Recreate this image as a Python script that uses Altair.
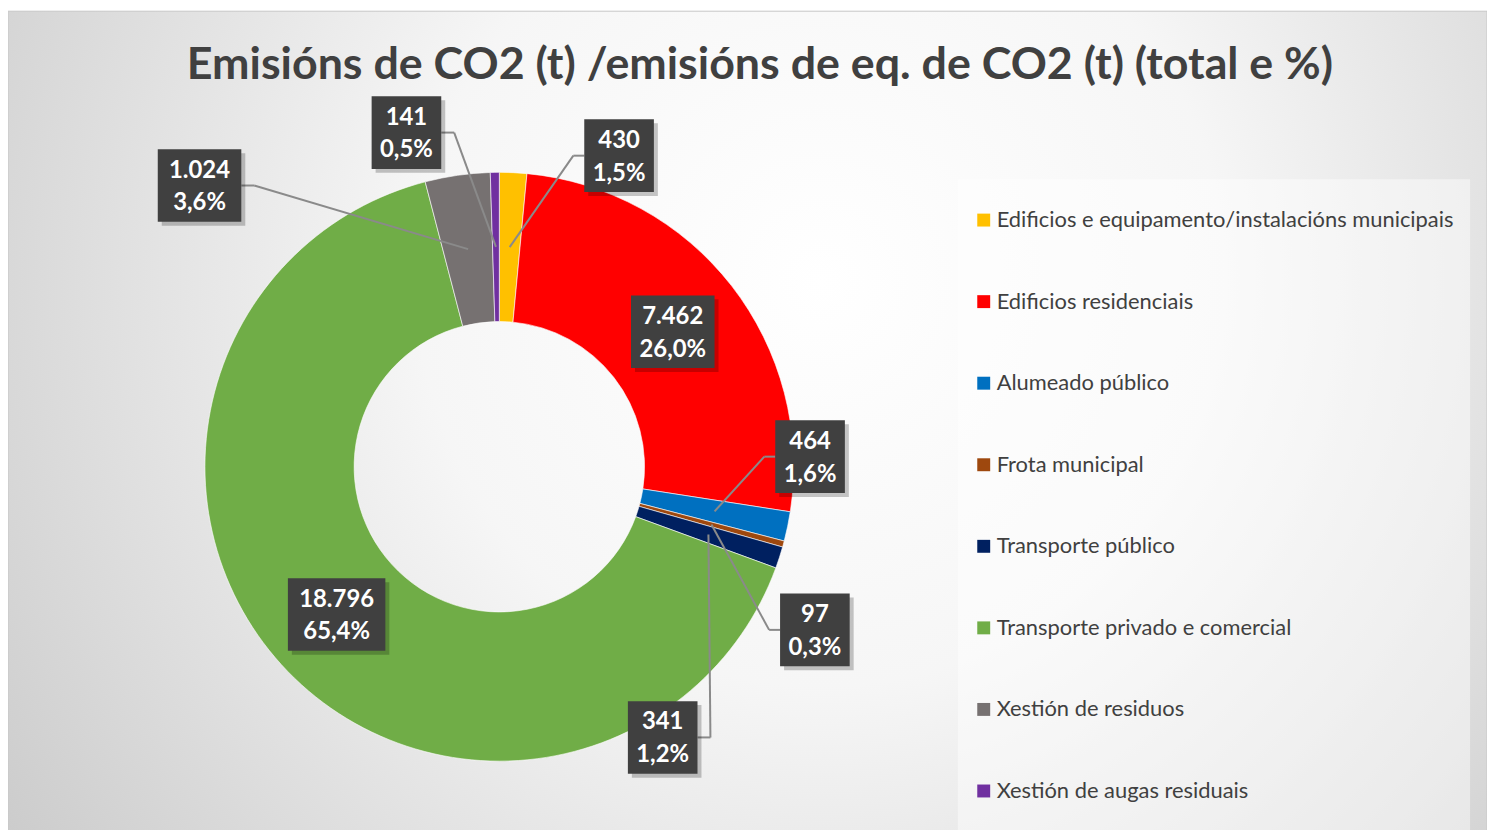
import altair as alt
import pandas as pd

# ---------------- data ----------------
CATEGORIES = [
    "Edificios e equipamento/instalacións municipais",
    "Edificios residenciais",
    "Alumeado público",
    "Frota municipal",
    "Transporte público",
    "Transporte privado e comercial",
    "Xestión de residuos",
    "Xestión de augas residuais",
]
VALUES = [430, 7462, 464, 97, 341, 18796, 1024, 141]
COLORS = ["#FFC000", "#FF0000", "#0070C0", "#9E480E", "#002060", "#70AD47", "#767171", "#7030A0"]
TITLE = "Emisións de CO2 (t) /emisións de eq. de CO2 (t) (total e %)"

# ---------------- layout ----------------
W, H = 1487, 822
CX, CY = 494, 459
R_OUT, R_IN = 296, 146
R_LAB = 221
# label box offset from the slice's mid-ring point (0,0 = label on the slice)
LABEL_OFFSETS = [(110, -92), (0, 0), (96, -55), (104, 106), (-46, 204), (0, 0), (-270, -64), (-90, -115)]
FONT = "Lato"

total = sum(VALUES)


def fmt_int(v):
    return f"{v:,}".replace(",", ".")


def fmt_pct(v):
    return f"{v / total * 100:.1f}%".replace(".", ",")


df = pd.DataFrame({
    "cat": CATEGORIES,
    "value": VALUES,
    "ord": list(range(len(CATEGORIES))),
    "l1": [fmt_int(v) for v in VALUES],
    "l2": [fmt_pct(v) for v in VALUES],
    "odx": [o[0] for o in LABEL_OFFSETS],
    "ody": [o[1] for o in LABEL_OFFSETS],
})

PX = dict(scale=None, axis=None)

# background panel
bg = alt.Chart(pd.DataFrame({"a": [0]})).mark_rect(
    fill=alt.RadialGradient(
        gradient="radial",
        x1=0.55, y1=0.4, r1=0.0,
        x2=0.55, y2=0.4, r2=0.72,
        stops=[alt.GradientStop(color="#ffffff", offset=0.0),
               alt.GradientStop(color="#f6f6f6", offset=0.38),
               alt.GradientStop(color="#c6c6c6", offset=1.0)],
    ),
    stroke="#c8c8c8", strokeWidth=1,
).encode(x=alt.value(0), x2=alt.value(W), y=alt.value(1), y2=alt.value(H + 20))

legend_box = alt.Chart(pd.DataFrame({"a": [0]})).mark_rect(
    fill="#ffffff", fillOpacity=0.45
).encode(x=alt.value(955), x2=alt.value(1470), y=alt.value(170), y2=alt.value(H + 20))

arcs = alt.Chart(df).mark_arc(
    outerRadius=R_OUT, innerRadius=R_IN, stroke="#ffffff", strokeWidth=0.6
).encode(
    theta=alt.Theta("value:Q", stack=True),
    color=alt.Color(
        "cat:N",
        scale=alt.Scale(domain=CATEGORIES, range=COLORS),
        legend=alt.Legend(
            title=None, orient="none", legendX=970, legendY=200,
            symbolType="square", symbolSize=169, symbolStrokeWidth=0, symbolOpacity=1,
            labelFont=FONT, labelFontSize=22, labelColor="#404040",
            rowPadding=60, labelLimit=700, labelOffset=2,
        ),
    ),
    order=alt.Order("ord:Q"),
    x=alt.value(CX),
    y=alt.value(CY),
)

base = alt.Chart(df).transform_joinaggregate(
    total="sum(value)"
).transform_window(
    cum="sum(value)", sort=[alt.SortField("ord")], frame=[None, 0]
).transform_calculate(
    mid="(datum.cum - datum.value / 2) / datum.total * 2 * PI"
).transform_calculate(
    ax=f"{CX} + {R_LAB} * sin(datum.mid)",
    ay=f"{CY} - {R_LAB} * cos(datum.mid)",
).transform_calculate(
    bx="datum.ax + datum.odx",
    by="datum.ay + datum.ody",
    w="max(length(datum.l1), length(datum.l2)) * 14 + 14",
).transform_calculate(
    x1="datum.bx - datum.w / 2",
    x2="datum.bx + datum.w / 2",
    y1="datum.by - 36.5",
    y2="datum.by + 36.5",
    t1="datum.by - 15",
    t2="datum.by + 18",
    sx1="datum.bx - datum.w / 2 + 4",
    sx2="datum.bx + datum.w / 2 + 4",
    sy1="datum.by - 32.5",
    sy2="datum.by + 40.5",
).transform_calculate(
    ex="datum.odx > 0 ? datum.x1 - 11 : datum.x2 + 13",
    edge="datum.odx > 0 ? datum.x1 : datum.x2",
)

outside = base.transform_filter("datum.odx != 0 || datum.ody != 0")

lead1 = outside.mark_rule(color="#8a8a8a", strokeWidth=2).encode(
    x=alt.X("ax:Q", **PX), y=alt.Y("ay:Q", **PX),
    x2=alt.X2("ex:Q"), y2=alt.Y2("by:Q"),
)
lead2 = outside.mark_rule(color="#8a8a8a", strokeWidth=2).encode(
    x=alt.X("ex:Q", **PX), y=alt.Y("by:Q", **PX),
    x2=alt.X2("edge:Q"), y2=alt.Y2("by:Q"),
)

shadow = base.mark_rect(fill="#000000", fillOpacity=0.22).encode(
    x=alt.X("sx1:Q", **PX), x2=alt.X2("sx2:Q"),
    y=alt.Y("sy1:Q", **PX), y2=alt.Y2("sy2:Q"),
)
boxes = base.mark_rect(fill="#404040").encode(
    x=alt.X("x1:Q", **PX), x2=alt.X2("x2:Q"),
    y=alt.Y("y1:Q", **PX), y2=alt.Y2("y2:Q"),
)
txt1 = base.mark_text(font=FONT, fontSize=24, fontWeight="bold", color="#ffffff",
                      align="center", baseline="middle").encode(
    x=alt.X("bx:Q", **PX), y=alt.Y("t1:Q", **PX), text="l1:N")
txt2 = base.mark_text(font=FONT, fontSize=24, fontWeight="bold", color="#ffffff",
                      align="center", baseline="middle").encode(
    x=alt.X("bx:Q", **PX), y=alt.Y("t2:Q", **PX), text="l2:N")

title = alt.Chart(pd.DataFrame({"t": [TITLE]})).mark_text(
    font=FONT, fontSize=45, fontWeight="bold", color="#404040",
    align="center", baseline="alphabetic",
).encode(x=alt.value(756), y=alt.value(69), text="t:N")

chart = alt.layer(
    bg, legend_box, arcs, lead1, lead2, shadow, boxes, txt1, txt2, title
).properties(
    width=W, height=H,
    autosize=alt.AutoSizeParams(type="none"),
    padding=0,
).configure_view(stroke=None)

chart.save("out.html", embed_options={"renderer": "svg", "actions": False})
